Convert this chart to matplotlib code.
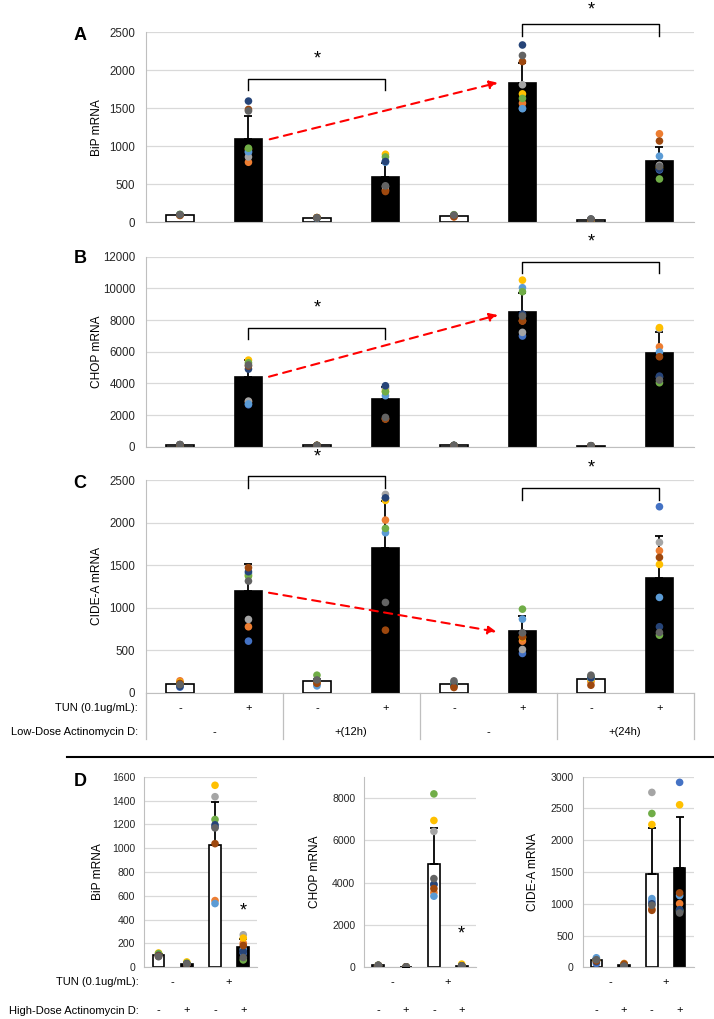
import numpy as np
import matplotlib
matplotlib.use('Agg')
from matplotlib import pyplot as plt
from matplotlib import transforms
from matplotlib.lines import Line2D

plt.rcParams['font.family'] = ['Liberation Sans', 'DejaVu Sans']

W, H = 714, 1019

# one colour per replicate (Excel palette)
rep_colors = ['#4472C4', '#ED7D31', '#A5A5A5', '#FFC000', '#5B9BD5',
              '#70AD47', '#264478', '#9E480E', '#636363']

# --- panel A: BiP ---
bip_mean = [100, 1101, 60, 592, 85, 1838, 35, 807]
bip_err = [10, 298, 8, 190, 12, 254, 10, 189]
bip_pts = [
    [95, 90, 100, 95, 100, 105, 98, 92, 100],
    [920, 790, 860, 960, 930, 975, 1595, 1485, 1465],
    [55, 60, 58, 62, 55, 60, 58, 62, 60],
    [800, 420, 470, 895, 790, 860, 800, 405, 480],
    [85, 70, 95, 90, 80, 100, 85, 75, 95],
    [1500, 1565, 1810, 1690, 1495, 1630, 2333, 2115, 2195],
    [30, 35, 40, 10, 30, 35, 40, 30, 45],
    [690, 1165, 750, 720, 870, 570, 700, 1070, 735],
]

# --- panel B: CHOP ---
chop_mean = [130, 4421, 80, 2989, 80, 8505, 60, 5937]
chop_err = [20, 1080, 10, 800, 10, 1220, 10, 1305]
chop_pts = [
    [120, 110, 130, 100, 120, 110, 125, 115, 140],
    [2650, 2840, 2880, 5470, 2700, 5300, 4900, 5100, 5160],
    [70, 80, 75, 85, 70, 80, 75, 80, 85],
    [3750, 1760, 3650, 3500, 3220, 3470, 3850, 1750, 1850],
    [80, 75, 80, 70, 85, 80, 75, 70, 85],
    [6990, 7950, 7220, 10520, 10040, 9790, 8380, 7940, 8250],
    [50, 60, 55, 40, 60, 55, 60, 50, 65],
    [4400, 6310, 7450, 7520, 5980, 4040, 4460, 5680, 4210],
]

# --- panel C: CIDE-A ---
cidea_mean = [108, 1194, 139, 1704, 100, 724, 159, 1343]
cidea_err = [12, 314, 20, 549, 10, 180, 15, 498]
cidea_pts = [
    [65, 140, 90, 120, 85, 100, 75, 110, 95],
    [606, 775, 861, 1380, 1400, 1370, 1422, 1469, 1312],
    [100, 120, 150, 130, 80, 206, 140, 110, 150],
    [2284, 2029, 2331, 2260, 1880, 1931, 2290, 735, 1061],
    [80, 110, 100, 90, 120, 100, 85, 61, 139],
    [461, 606, 508, 650, 865, 982, 700, 657, 704],
    [180, 130, 160, 150, 170, 190, 175, 88, 206],
    [2186, 1669, 1767, 1508, 1120, 676, 775, 1590, 708],
]

tun_low = ['-', '+', '-', '+', '-', '+', '-', '+']
actd_low = ['-', '+(12h)', '-', '+(24h)']

# --- panel D: high-dose actinomycin D ---
d_bip_mean = [104, 30, 1027, 174]
d_bip_err = [8, 5, 363, 60]
d_bip_pts = [
    [100, 95, 90, 120, 105, 115, 100, 95, 90],
    [25, 30, 28, 45, 30, 35, 30, 25, 28],
    [1180, 560, 1432, 1528, 535, 1241, 1196, 1038, 1170],
    [120, 203, 273, 245, 150, 62, 132, 183, 82],
]
d_chop_mean = [90, 20, 4894, 70]
d_chop_err = [10, 5, 1694, 20]
d_chop_pts = [
    [80, 90, 85, 100, 95, 90, 85, 80, 100],
    [15, 20, 25, 20, 15, 20, 20, 15, 20],
    [3900, 3530, 6416, 6933, 3357, 8188, 3922, 3718, 4188],
    [60, 80, 70, 150, 65, 75, 70, 60, 70],
]
d_cidea_mean = [116, 40, 1471, 1556]
d_cidea_err = [20, 10, 718, 817]
d_cidea_pts = [
    [60, 120, 130, 100, 150, 110, 90, 100, 120],
    [40, 60, 30, 50, 40, 45, 30, 50, 20],
    [1039, 918, 2753, 2247, 1081, 2421, 1000, 897, 976],
    [2911, 1002, 880, 2558, 1129, 900, 907, 1171, 855],
]
tun_high = ['-', '+']
actd_high = ['-', '+', '-', '+']

# brackets: (left bar, right bar, top, leg bottom, star y)
brackets_a = [(1, 3, 1885, 1740, 2145), (5, 7, 2609, 2455, 2790)]
brackets_b = [(1, 3, 7478, 6783, 8742), (5, 7, 11684, 10990, 12910)]
brackets_c = [(1, 3, 2551, 2410, 2774), (5, 7, 2403, 2265, 2638)]
# red dashed arrows: (x0, y0, x1, y1)
arrow_a = (1.31, 1092, 4.64, 1837)
arrow_b = (1.30, 4421, 4.64, 8318)
arrow_c = (1.30, 1175, 4.62, 717)

fig = plt.figure(figsize=(W / 100, H / 100), dpi=100)


def px_axes(left, top, right, bottom):
    return fig.add_axes([left / W, 1 - bottom / H, (right - left) / W, (bottom - top) / H])


def style_axes(ax, ymax, step, n, size=8.3, pad=7.5):
    ax.set_ylim(0, ymax)
    ax.set_xlim(-0.5, n - 0.5)
    ax.set_yticks(np.arange(0, ymax + 1, step))
    ax.set_xticks([])
    ax.grid(axis='y', color='#D9D9D9', lw=0.9)
    ax.set_axisbelow(True)
    ax.spines['top'].set_visible(False)
    ax.spines['right'].set_visible(False)
    ax.spines['left'].set_color('#BFBFBF')
    ax.spines['bottom'].set_color('#BFBFBF')
    ax.tick_params(length=0, labelsize=size, pad=pad, labelcolor='#262626')


def draw_bars(ax, means, errs, pts, fills, width=0.42):
    x = np.arange(len(means))
    ax.bar(x, means, width=width, color=fills, edgecolor='black', linewidth=1.2, zorder=2)
    ax.errorbar(x, means, yerr=[np.zeros(len(errs)), errs], fmt='none', ecolor='black',
                elinewidth=1.3, capsize=3, capthick=1.3, zorder=3)
    for i, vals in enumerate(pts):
        ax.scatter([i] * len(vals), vals, s=30, c=rep_colors, linewidths=0, zorder=4)


def draw_brackets(ax, brackets):
    for x0, x1, yt, yb, ys in brackets:
        ax.plot([x0, x0, x1, x1], [yb, yt, yt, yb], color='black', lw=1, clip_on=False, zorder=5)
        ax.text((x0 + x1) / 2, ys, '*', ha='center', va='center', fontsize=13, clip_on=False)


def draw_arrow(ax, arr):
    x0, y0, x1, y1 = arr
    ax.annotate('', xy=(x1, y1), xytext=(x0, y0),
                arrowprops=dict(arrowstyle='-|>', color='#FF0000', lw=1.5,
                                linestyle=(0, (4, 3)), mutation_scale=12,
                                shrinkA=0, shrinkB=0), zorder=6)


top_fill = ['white', 'black'] * 4
d_fill = ['white', 'black', 'white', 'black']

# panels A-C
ax_a = px_axes(145.7, 32.3, 693.7, 222.3)
ax_b = px_axes(145.7, 256.7, 693.7, 446.7)
ax_c = px_axes(145.7, 480, 693.7, 692.7)

for ax, mean, err, pts, ymax, step, br, arr in [
        (ax_a, bip_mean, bip_err, bip_pts, 2500, 500, brackets_a, arrow_a),
        (ax_b, chop_mean, chop_err, chop_pts, 12000, 2000, brackets_b, arrow_b),
        (ax_c, cidea_mean, cidea_err, cidea_pts, 2500, 500, brackets_c, arrow_c)]:
    style_axes(ax, ymax, step, 8)
    draw_bars(ax, mean, err, pts, top_fill, width=0.4)
    draw_brackets(ax, br)
    draw_arrow(ax, arr)

for label, y in [('BiP mRNA', 127.3), ('CHOP mRNA', 351.7), ('CIDE-A mRNA', 586.3)]:
    fig.text(97 / W, 1 - y / H, label, rotation=90, ha='center', va='center', fontsize=8.6)
for letter, y in [('A', 36), ('B', 258.3), ('C', 483.3), ('D', 781.7)]:
    fig.text(80 / W, 1 - y / H, letter, ha='center', va='center', fontsize=13, fontweight='bold')

# table under panel C
blend_c = transforms.blended_transform_factory(ax_c.transData, fig.transFigure)
for i, s in enumerate(tun_low):
    ax_c.text(i, 1 - 708.3 / H, s, transform=blend_c, ha='center', va='center', fontsize=8)
for i, s in enumerate(actd_low):
    ax_c.text(2 * i + 0.5, 1 - 732.3 / H, s, transform=blend_c, ha='center', va='center', fontsize=8)
for xv in [-0.5, 1.5, 3.5, 5.5, 7.5]:
    ax_c.plot([xv, xv], [1 - 692.7 / H, 1 - 739.3 / H], transform=blend_c,
              color='#BFBFBF', lw=0.9, clip_on=False)
fig.text(138 / W, 1 - 708.3 / H, 'TUN (0.1ug/mL):', ha='right', va='center', fontsize=8)
fig.text(138 / W, 1 - 732.3 / H, 'Low-Dose Actinomycin D:', ha='right', va='center', fontsize=8)

# separator
fig.add_artist(Line2D([66.7 / W, 1.0], [1 - 757.3 / H] * 2, color='black', lw=1.5))

# panel D
ax_d1 = px_axes(144.4, 776.7, 257.4, 967.3)
ax_d2 = px_axes(364.4, 776.7, 475.6, 967.3)
ax_d3 = px_axes(582.5, 776.7, 693.5, 967.3)

for ax, mean, err, pts, ymax, step in [
        (ax_d1, d_bip_mean, d_bip_err, d_bip_pts, 1600, 200),
        (ax_d2, d_chop_mean, d_chop_err, d_chop_pts, 9000, 2000),
        (ax_d3, d_cidea_mean, d_cidea_err, d_cidea_pts, 3000, 500)]:
    style_axes(ax, ymax, step, 4, size=7.6, pad=6.5)
    draw_bars(ax, mean, err, pts, d_fill, width=0.42)
    blend = transforms.blended_transform_factory(ax.transData, fig.transFigure)
    for i, s in enumerate(tun_high):
        ax.text(2 * i + 0.5, 1 - 982.3 / H, s, transform=blend, ha='center', va='center', fontsize=8)
    for i, s in enumerate(actd_high):
        ax.text(i, 1 - 1010.5 / H, s, transform=blend, ha='center', va='center', fontsize=8)

ax_d1.text(3, 475, '*', ha='center', va='center', fontsize=13)
ax_d2.text(3, 1553, '*', ha='center', va='center', fontsize=13)

for label, x in [('BiP mRNA', 98), ('CHOP mRNA', 315), ('CIDE-A mRNA', 533)]:
    fig.text(x / W, 1 - 872 / H, label, rotation=90, ha='center', va='center', fontsize=8.6)
fig.text(139 / W, 1 - 982.3 / H, 'TUN (0.1ug/mL):', ha='right', va='center', fontsize=8)
fig.text(139 / W, 1 - 1010.5 / H, 'High-Dose Actinomycin D:', ha='right', va='center', fontsize=8)

plt.savefig('out.png', dpi=100)
